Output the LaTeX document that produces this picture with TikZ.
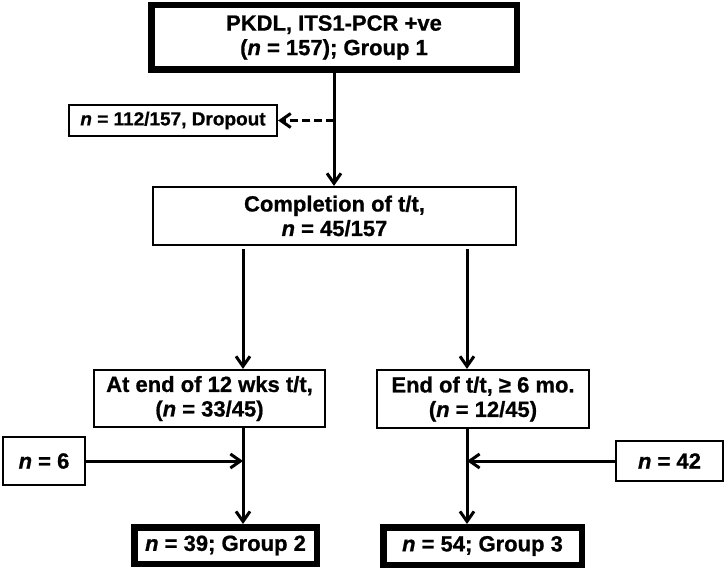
\documentclass[tikz,border=0pt]{standalone}
\usepackage{fontspec}
\setmainfont{Liberation Sans}[BoldFeatures={FakeBold=0.8}, BoldItalicFeatures={FakeBold=0.8}]
\usetikzlibrary{calc,arrows.meta}
\tikzset{
  box/.style={draw=black, line width=1.7pt, align=center, inner sep=0pt, text=black, font=\bfseries\fontsize{22}{24.5}\selectfont},
  thickbox/.style={box, line width=6.5pt},
  small/.style={font=\bfseries\fontsize{19}{22}\selectfont},
  flow/.style={draw=black, line width=3pt, -{Straight Barb[length=10pt,width=14pt]}},
  dashflow/.style={flow, dash pattern=on 8pt off 4pt},
}
\begin{document}
\begin{tikzpicture}[x=1pt, y=-1pt]
  \useasboundingbox (0,0) rectangle (726,569);
  % boxes
  \node[thickbox, minimum width=365.5pt, minimum height=64.5pt] (pkdl) at (334,37.5) {PKDL, ITS1-PCR +ve\\(\textit{n} = 157); Group 1};
  \node[box, small, minimum width=208.5pt, minimum height=31.5pt] (dropout) at (173,120.5) {\textit{n} = 112/157, Dropout};
  \node[box, minimum width=363.5pt, minimum height=58.5pt] (compl) at (334.5,216) {Completion of t/t,\\\textit{n} = 45/157};
  \node[box, minimum width=231.5pt, minimum height=57.5pt] (wk12) at (209.5,398.5) {At end of 12 wks t/t,\\(\textit{n} = 33/45)};
  \node[box, minimum width=212.5pt, minimum height=58.5pt] (mo6) at (483,399) {End of t/t, ≥ 6 mo.\\(\textit{n} = 12/45)};
  \node[box, minimum width=82.5pt, minimum height=48.5pt] (nsix) at (44,461) {\textit{n} = 6};
  \node[box, minimum width=107.5pt, minimum height=40.5pt] (nff) at (669.5,461) {\textit{n} = 42};
  \node[thickbox, minimum width=182.5pt, minimum height=36.5pt] (grp2) at (225.5,545.5) {\textit{n} = 39; Group 2};
  \node[thickbox, minimum width=198.5pt, minimum height=37.5pt] (grp3) at (482.5,546) {\textit{n} = 54; Group 3};
  % connectors
  \coordinate (lx) at (243,0);
  \coordinate (rx) at (467,0);
  \coordinate (split) at (pkdl.south |- dropout.east);
  \draw[flow] (pkdl.south) -- (pkdl.south |- compl.north);
  \draw[dashflow] (split) -- (dropout.east);
  \draw[flow, shorten <=3pt] (compl.south -| lx) -- (wk12.north -| lx);
  \draw[flow, shorten <=3pt] (compl.south -| rx) -- (mo6.north -| rx);
  \draw[flow] (wk12.south -| lx) -- (grp2.north -| lx);
  \draw[flow] (mo6.south -| rx) -- (grp3.north -| rx);
  \draw[flow] (nsix.east) -- (nsix.east -| lx);
  \draw[flow] (nff.west) -- (nff.west -| rx);
\end{tikzpicture}
\end{document}
